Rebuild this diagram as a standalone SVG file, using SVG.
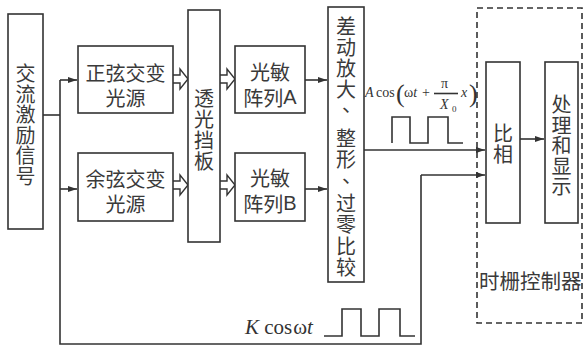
<svg xmlns="http://www.w3.org/2000/svg" width="584" height="347" viewBox="0 0 584 347">
<style>
.box{fill:#fff;stroke:#333;stroke-width:1.6}
.ln{fill:none;stroke:#333;stroke-width:1.6}
.ha{fill:#fff;stroke:#333;stroke-width:1.4;stroke-linejoin:miter}
.cjk{font-family:"Noto Sans CJK SC","Noto Sans",sans-serif;font-size:20px;fill:#3a3a3a;text-anchor:middle;dominant-baseline:central}
.lat{font-family:"Liberation Sans",sans-serif}
.m{font-family:"Liberation Serif",serif;fill:#333}
.i{font-style:italic}
</style>
<defs>
<marker id="ah" markerWidth="10" markerHeight="8" refX="9" refY="4" orient="auto" markerUnits="userSpaceOnUse">
<path d="M0,1 L9,4 L0,7 Z" fill="#333"/>
</marker>
<path id="hol" d="M0,-4 H7 V-10 L15,0 L7,10 V4 H0"/>
</defs>
<rect width="584" height="347" fill="#fff"/>

<g id="connectors">
<path class="ln" d="M43,115 H60"/>
<path class="ln" d="M60,80 V344 H421 V175"/>
<path class="ln" d="M60,80 H77" marker-end="url(#ah)"/>
<path class="ln" d="M60,189 H77" marker-end="url(#ah)"/>
<path class="ln" d="M421,175 H485" marker-end="url(#ah)"/>
<path class="ln" d="M305,80 H327" marker-end="url(#ah)"/>
<path class="ln" d="M305,189 H327" marker-end="url(#ah)"/>
<path class="ln" d="M364,150 H485" marker-end="url(#ah)"/>
<path class="ln" d="M520,139 H544" marker-end="url(#ah)"/>
<use href="#hol" class="ha" x="173" y="79"/>
<use href="#hol" class="ha" x="220" y="79"/>
<use href="#hol" class="ha" x="173" y="185"/>
<use href="#hol" class="ha" x="220" y="185"/>
<path class="ln" d="M392,143 V117 H410 V143 H428 V117 H448 V143 H463"/>
<path class="ln" d="M324,336 H342 V309 H361 V336 H379 V309 H400 V336 H415"/>
</g>

<g id="formula-a">
<text class="m" y="97" font-size="14"><tspan x="365" class="i">A</tspan><tspan x="376">cos</tspan></text>
<text class="m" x="396" y="102" font-size="26">(</text>
<text class="m" x="404" y="97" font-size="14">ω<tspan class="i">t</tspan></text>
<text class="m" x="422" y="97" font-size="14">+</text>
<text class="m" x="441" y="88" font-size="14">π</text>
<path class="ln" d="M434,93.5 H458" stroke-width="1"/>
<text class="m i" x="440" y="109" font-size="14">X</text>
<text class="m" x="452" y="112" font-size="9">0</text>
<text class="m i" x="461" y="97" font-size="14">x</text>
<text class="m" x="469" y="102" font-size="26">)</text>
</g>

<g id="formula-k">
<text class="m" x="245" y="334" font-size="21"><tspan class="i">K</tspan> cos<tspan dx="1">ω</tspan><tspan class="i">t</tspan></text>
</g>

<g id="n-source">
<rect class="box" x="8" y="14" width="35" height="215"/>
<text class="cjk"><tspan x="25.5" y="72">交</tspan><tspan x="25.5" y="92.5">流</tspan><tspan x="25.5" y="113">激</tspan><tspan x="25.5" y="133.5">励</tspan><tspan x="25.5" y="154">信</tspan><tspan x="25.5" y="174.5">号</tspan></text>
</g>

<g id="n-sin">
<rect class="box" x="78" y="46" width="95" height="67"/>
<text class="cjk"><tspan x="125.5" y="72">正弦交变</tspan><tspan x="125.5" y="97">光源</tspan></text>
</g>

<g id="n-cos">
<rect class="box" x="78" y="153" width="95" height="68"/>
<text class="cjk"><tspan x="125.5" y="178">余弦交变</tspan><tspan x="125.5" y="203">光源</tspan></text>
</g>

<g id="n-plate">
<rect class="box" x="188" y="10" width="32" height="232"/>
<text class="cjk"><tspan x="204" y="97">透</tspan><tspan x="204" y="118">光</tspan><tspan x="204" y="139">挡</tspan><tspan x="204" y="160">板</tspan></text>
</g>

<g id="n-arrayA">
<rect class="box" x="235" y="46" width="70" height="67"/>
<text class="cjk"><tspan x="270" y="71">光敏</tspan><tspan x="270" y="97">阵列<tspan class="lat">A</tspan></tspan></text>
</g>

<g id="n-arrayB">
<rect class="box" x="235" y="153" width="70" height="68"/>
<text class="cjk"><tspan x="270" y="177">光敏</tspan><tspan x="270" y="203">阵列<tspan class="lat">B</tspan></tspan></text>
</g>

<g id="n-diff">
<rect class="box" x="328" y="7" width="36" height="275"/>
<text class="cjk"><tspan x="346" y="25">差</tspan><tspan x="346" y="46">动</tspan><tspan x="346" y="67">放</tspan><tspan x="346" y="88">大</tspan><tspan x="352" y="103">、</tspan><tspan x="346" y="137">整</tspan><tspan x="346" y="158">形</tspan><tspan x="352" y="174">、</tspan><tspan x="346" y="202">过</tspan><tspan x="346" y="223">零</tspan><tspan x="346" y="245">比</tspan><tspan x="346" y="266">较</tspan></text>
</g>

<g id="n-controller">
<rect x="477" y="8" width="105" height="315" fill="none" stroke="#333" stroke-width="1.6" stroke-dasharray="6,4"/>
<text class="cjk" x="479" y="280" style="text-anchor:start;font-size:20.5px">时栅控制器</text>
</g>

<g id="n-phase">
<rect class="box" x="486" y="62" width="34" height="161"/>
<text class="cjk"><tspan x="503" y="132">比</tspan><tspan x="503" y="153">相</tspan></text>
</g>

<g id="n-display">
<rect class="box" x="545" y="62" width="33" height="161"/>
<text class="cjk"><tspan x="561.5" y="103">处</tspan><tspan x="561.5" y="123.5">理</tspan><tspan x="561.5" y="144">和</tspan><tspan x="561.5" y="164.5">显</tspan><tspan x="561.5" y="185">示</tspan></text>
</g>
</svg>
